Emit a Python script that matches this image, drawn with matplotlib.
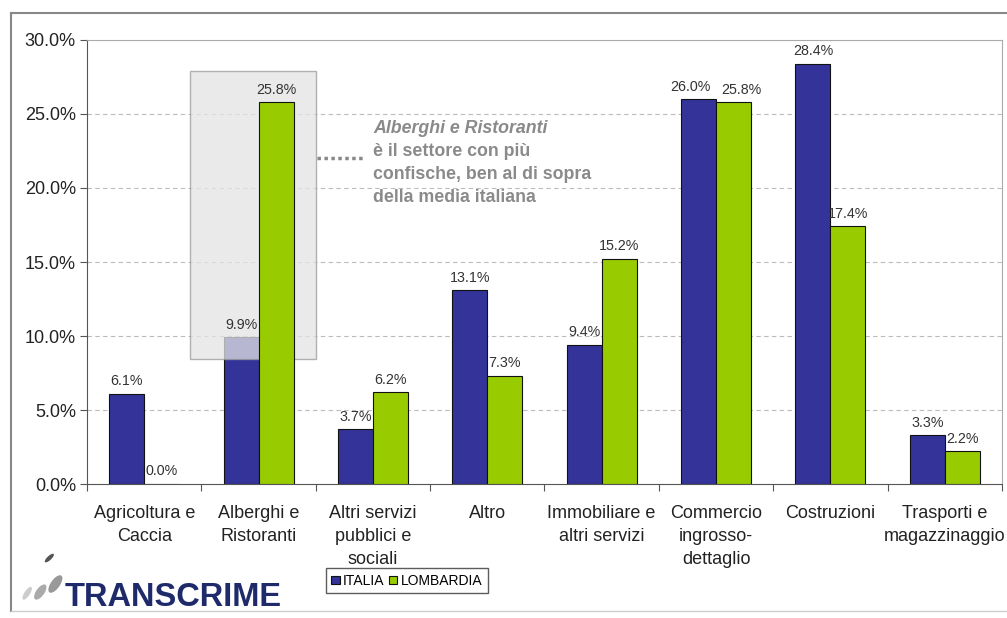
#!/usr/bin/env python3

import numpy as np
import matplotlib.pyplot as plt
from matplotlib.patches import Rectangle, Ellipse
from matplotlib.lines import Line2D


# -----------------------------
# Data
# -----------------------------
categories = [
    "Agricoltura e\nCaccia",
    "Alberghi e\nRistoranti",
    "Altri servizi\npubblici e\nsociali",
    "Altro",
    "Immobiliare e\naltri servizi",
    "Commercio\ningrosso-\ndettaglio",
    "Costruzioni",
    "Trasporti e\nmagazzinaggio",
]
italia = [6.1, 9.9, 3.7, 13.1, 9.4, 26.0, 28.4, 3.3]
lombardia = [0.0, 25.8, 6.2, 7.3, 15.2, 25.8, 17.4, 2.2]
series_names = ["ITALIA", "LOMBARDIA"]

note_lines = [
    "Alberghi e Ristoranti",
    "è il settore con più",
    "confische, ben al di sopra",
    "della media italiana",
]

# -----------------------------
# Style
# -----------------------------
COLORS = {"ITALIA": "#333399", "LOMBARDIA": "#99cc00"}
plt.rcParams["font.family"] = ["Liberation Sans", "DejaVu Sans"]

fig = plt.figure(figsize=(10.07, 6.18), dpi=100)
ax = fig.add_axes([0.0864, 0.2168, 0.9086, 0.7185])

x = np.arange(len(categories))
w = 0.306

bars_it = ax.bar(x - w / 2, italia, w, color=COLORS["ITALIA"],
                 edgecolor="#111111", linewidth=0.8, zorder=2)
bars_lo = ax.bar(x + w / 2, lombardia, w, color=COLORS["LOMBARDIA"],
                 edgecolor="#111111", linewidth=0.8, zorder=4)

# value labels (push apart when the two bars of a group are nearly equal)
for bars, vals, other, side in [(bars_it, italia, lombardia, -1),
                                (bars_lo, lombardia, italia, 1)]:
    for b, v, o in zip(bars, vals, other):
        dx = 6 * side if abs(v - o) < 1.0 else 0
        ax.annotate(f"{v:.1f}%", (b.get_x() + b.get_width() / 2, v),
                    xytext=(dx, 4), textcoords="offset points",
                    ha="center", va="bottom", fontsize=10.3,
                    color="#333333", zorder=5)

# highlight box around Alberghi e Ristoranti
ax.add_patch(Rectangle((0.40, 8.45), 1.10, 19.45, facecolor="#e4e4e4",
                       edgecolor="#999999", linewidth=1.0, alpha=0.75,
                       zorder=3))
ax.plot([1.51, 1.93], [22.0, 22.0], color="#888888", linestyle=(0, (1, 1)),
        linewidth=2.5, zorder=3)

note_y = [24.0, 22.45, 20.9, 19.35]
for i, (line, yy) in enumerate(zip(note_lines, note_y)):
    ax.text(2.0, yy, line, fontsize=12.8, color="#8a8a8a", ha="left",
            va="center", fontweight="bold",
            fontstyle="italic" if i == 0 else "normal", zorder=5)

# axes
ax.set_xlim(-0.5, len(categories) - 0.5)
ax.set_ylim(0, 30)
ax.set_yticks(np.arange(0, 31, 5))
ax.set_yticklabels([f"{t:.1f}%" for t in np.arange(0, 31, 5)], fontsize=13,
                   color="#222222")
ax.set_xticks(np.arange(-0.5, len(categories), 1.0))
ax.set_xticklabels([])
ax.set_xticks(x, minor=True)
ax.set_xticklabels(categories, minor=True, fontsize=13, color="#222222",
                   linespacing=1.45)
ax.tick_params(axis="x", which="minor", length=0, pad=15)
ax.tick_params(axis="x", which="major", length=5, color="#555555")
ax.tick_params(axis="y", length=5, color="#555555", pad=3)

for y in range(5, 30, 5):
    ax.axhline(y, color="#bbbbbb", linestyle=(0, (4, 3)), linewidth=0.8,
               zorder=1)

ax.spines["left"].set_color("#555555")
ax.spines["bottom"].set_color("#555555")
ax.spines["top"].set_color("#aaaaaa")
ax.spines["right"].set_color("#aaaaaa")

# legend
handles = [Rectangle((0, 0), 1, 1, facecolor=COLORS[n], edgecolor="#111111",
                     linewidth=0.8) for n in series_names]
leg = fig.legend(handles, series_names, loc="center",
                 bbox_to_anchor=(0.404, 0.06), ncol=2, fontsize=10,
                 frameon=True, fancybox=False, handlelength=0.6,
                 handleheight=0.6, handletextpad=0.25, columnspacing=0.3,
                 borderpad=0.4)
leg.get_frame().set_edgecolor("#333333")
leg.get_frame().set_linewidth(1.0)

# outer frame
fig.add_artist(Line2D([0.011, 0.011], [0.012, 0.979], color="#888888",
                      linewidth=1.5))
fig.add_artist(Line2D([0.011, 1.0], [0.979, 0.979], color="#888888",
                      linewidth=1.5))
fig.add_artist(Line2D([0.011, 1.0], [0.012, 0.012], color="#cccccc",
                      linewidth=1.0))

# logo
fig.text(0.064, 0.020, "TRANSCRIME", fontsize=23.5, fontweight="bold",
         color="#1f2a6b", ha="left", va="baseline")
for cx, cy, ew, eh, ang, col in [(0.055, 0.055, 0.010, 0.030, -20, "#999999"),
                                 (0.040, 0.042, 0.009, 0.026, -20, "#aaaaaa"),
                                 (0.027, 0.040, 0.006, 0.022, -20, "#cccccc"),
                                 (0.049, 0.097, 0.005, 0.016, -30, "#555555")]:
    fig.add_artist(Ellipse((cx, cy), ew, eh, angle=ang, facecolor=col,
                           edgecolor="none", transform=fig.transFigure))

fig.savefig("out.png", dpi=100)
